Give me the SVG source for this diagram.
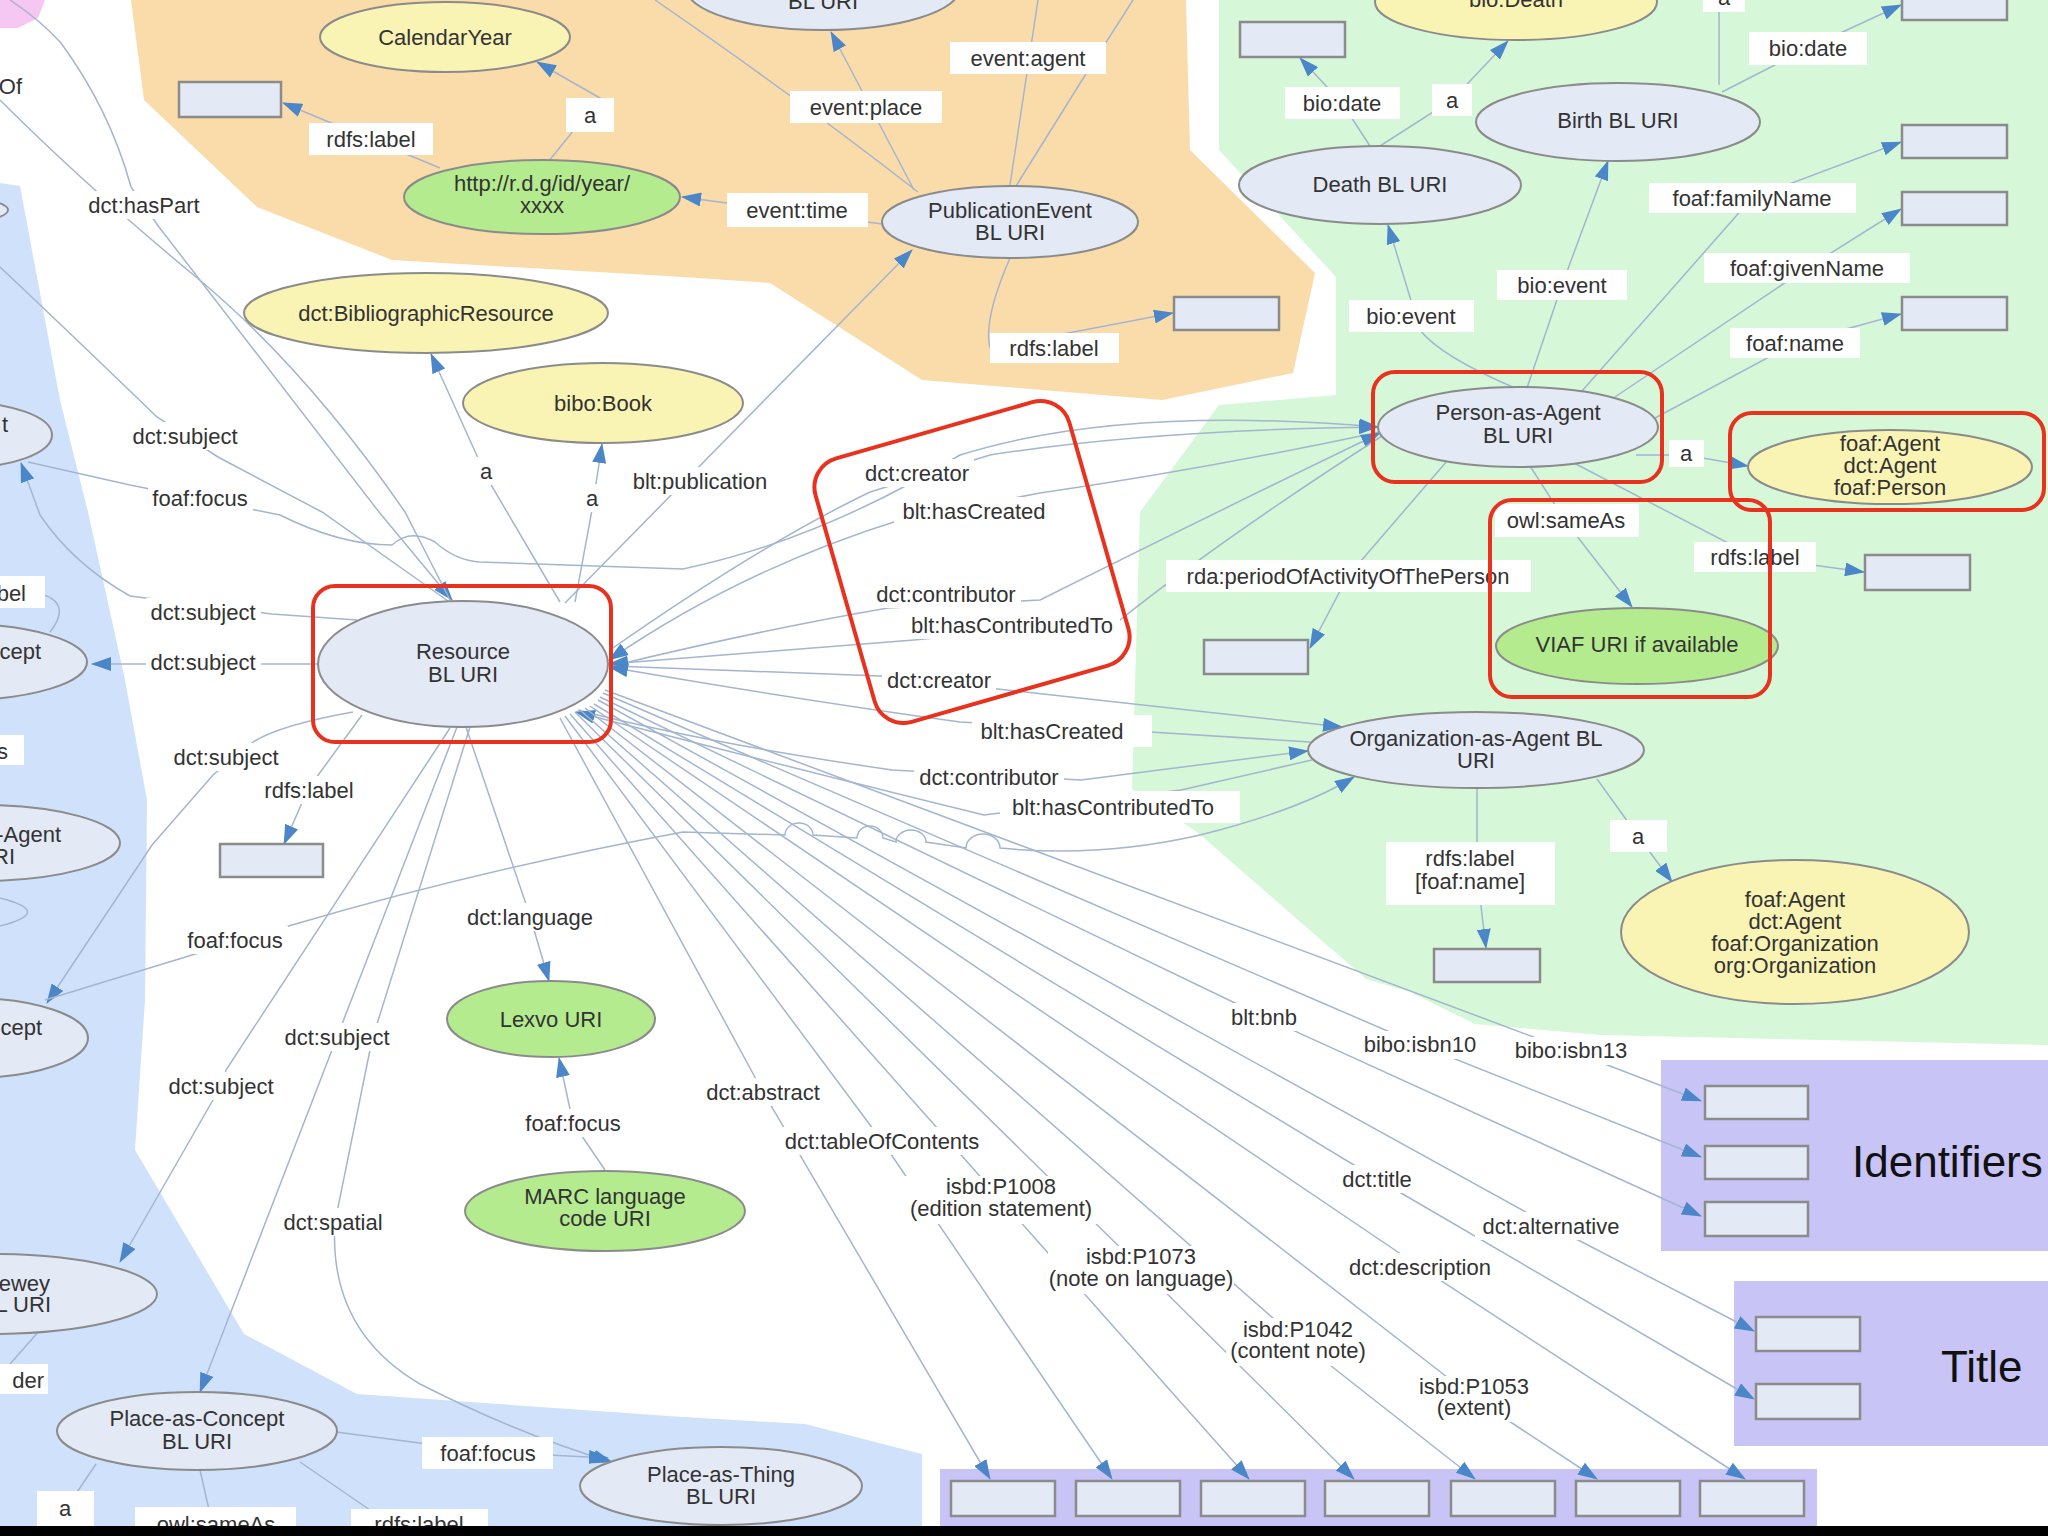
<svg xmlns="http://www.w3.org/2000/svg" width="2048" height="1536" viewBox="0 0 2048 1536">
<defs>
<marker id="ah" viewBox="0 0 20 14" refX="19" refY="7" markerWidth="20" markerHeight="14" markerUnits="userSpaceOnUse" orient="auto"><path d="M0,0 L20,7 L0,14 z" fill="#4a86c8"/></marker>
<style>
.c{fill:none;stroke:#a4b5cf;stroke-width:1.5}
.a{marker-end:url(#ah)}
.e{fill:#e3e9f5;stroke:#8b8b8b;stroke-width:2}
.y{fill:#faf4b4;stroke:#8b8b8b;stroke-width:2}
.g{fill:#b5eb8f;stroke:#8b8b8b;stroke-width:2}
.lit{fill:#e3e9f5;stroke:#8b8b8b;stroke-width:2.5}
.lb rect{fill:#ffffff}
text{font-family:'Liberation Sans',Arial,Helvetica,sans-serif;font-size:22px;fill:#333333;text-anchor:middle}
.r{text-anchor:end}
.big{font-size:44px;fill:#111;text-anchor:start}
.hl{fill:none;stroke:#e8321e;stroke-width:4}
</style>
</defs>
<rect width="2048" height="1536" fill="#ffffff"/>
<g id="regions">
<path d="M0,0 L45,0 L38,18 L18,28 L0,28 Z" fill="#f5c7f2"/>
<path d="M131,0 L144,100 L257,207 L392,260 L683,277 L770,283 L922,380 L1162,400 L1293,373 L1315,273 L1190,150 L1186,0 Z" fill="#fadcaa"/>
<path d="M1219,0 L1219,150 L1336,277 L1336,395 L1219,405 L1140,512 L1132,789 L1197,832 L1366,979 L1410,992 L1475,1024 L1600,1035 L2048,1045 L2048,0 Z" fill="#d6f7d8"/>
<path d="M0,183 L20,186 L60,400 L88,512 L125,680 L147,800 L145,1000 L135,1150 L244,1334 L357,1394 L683,1417 L805,1424 L922,1454 L922,1536 L0,1536 Z" fill="#d0e2fb"/>
<rect x="1661" y="1060" width="387" height="191" fill="#c8c4f6"/>
<rect x="1734" y="1281" width="314" height="165" fill="#c8c4f6"/>
<rect x="940" y="1469" width="877" height="67" fill="#c8c4f6"/>
</g>
<g id="connectors">
<path class="c a" d="M548,162 L600,98 L537,62"/>
<path class="c a" d="M440,168 L283,103"/>
<path class="c a" d="M882,224 L682,197"/>
<path class="c a" d="M914,190 L831,32"/>
<path class="c" d="M918,192 Q800,100 655,0"/>
<path class="c" d="M1010,185 L1038,0"/>
<path class="c" d="M1016,186 L1084,77 L1133,0"/>
<path class="c a" d="M1010,258 Q983,320 990,348 L1173,313"/>
<path class="c a" d="M565,603 L912,250"/>
<path class="c a" d="M560,602 L487,478 L431,354"/>
<path class="c a" d="M575,602 L592,510 L602,444"/>
<path class="c a" d="M10,0 Q40,20 61,43 Q110,110 131,187 L159,227 L379,512 L452,600"/>
<path class="c" d="M0,100 Q87,187 196,277 Q305,367 405,512 L450,600"/>
<path class="c" d="M0,267 Q70,333 157,417 L218,457 Q280,490 322,512 L448,601"/>
<path class="c a" d="M28,462 L130,485 L280,515 Q340,545 392,545 Q410,528 435,542 Q455,560 479,562 L683,569 Q820,540 960,455 Q1120,405 1378,427"/>
<path class="c a" d="M357,620 L272,614 L130,596 Q73,564 40,515 L21,463"/>
<path class="c a" d="M319,664 L92,664"/>
<path class="c a" d="M353,712 Q280,725 253,742 L213,775 L152,845 L47,1003"/>
<path class="c a" d="M45,1000 L192,955 L292,925 Q480,870 683,832 L785,835 a14,12 0 0 1 28,0 L857,838 a13,12 0 0 1 26,0 L896,842 a15,12 0 0 1 30,0 L966,848 a17,14 0 0 1 34,0 Q1100,858 1200,835 Q1300,810 1354,777"/>
<path class="c a" d="M610,650 Q760,545 870,492 L990,455 Q1150,430 1378,427"/>
<path class="c a" d="M1380,432 Q1200,470 1040,493 L900,520 Q740,570 609,660"/>
<path class="c a" d="M612,666 Q760,630 888,608 L1040,600 Q1200,520 1380,433"/>
<path class="c a" d="M1382,436 Q1220,540 1120,620 L914,640 Q760,652 609,664"/>
<path class="c a" d="M612,666 L880,676 L1342,727"/>
<path class="c a" d="M1310,742 L1150,732 L960,722 Q800,700 609,667"/>
<path class="c a" d="M578,710 Q700,742 892,770 L1081,780 L1308,751"/>
<path class="c a" d="M1312,760 L1181,790 L984,815 Q800,770 576,712"/>
<path class="c a" d="M560,718 L763,1092 L990,1479"/>
<path class="c a" d="M565,716 L882,1141 L1112,1479"/>
<path class="c a" d="M570,714 L1001,1200 L1249,1479"/>
<path class="c a" d="M575,712 L1141,1268 L1354,1479"/>
<path class="c a" d="M580,710 L1298,1340 L1475,1479"/>
<path class="c a" d="M585,708 L1474,1398 L1597,1479"/>
<path class="c a" d="M590,706 L1420,1267 L1745,1479"/>
<path class="c a" d="M594,704 L1377,1179 L1754,1399"/>
<path class="c a" d="M598,700 L1551,1226 L1754,1331"/>
<path class="c a" d="M600,697 L1264,1017 L1701,1216"/>
<path class="c a" d="M603,693 L1420,1045 L1701,1157"/>
<path class="c a" d="M605,690 L1571,1051 L1701,1101"/>
<path class="c a" d="M362,715 L308,789 L284,844"/>
<path class="c a" d="M466,727 L530,916 L549,981"/>
<path class="c a" d="M457,727 L337,1037 L200,1392"/>
<path class="c a" d="M470,727 L372,1040 L335,1222 Q328,1330 420,1384 Q520,1435 612,1462"/>
<path class="c a" d="M450,728 L226,1070 L221,1086 L120,1262"/>
<path class="c a" d="M605,1170 L573,1123 L559,1058"/>
<path class="c a" d="M336,1432 L488,1452 L608,1458"/>
<path class="c" d="M96,1464 L65,1510"/>
<path class="c" d="M200,1470 L209,1510"/>
<path class="c" d="M300,1462 L370,1510"/>
<path class="c" d="M40,1330 L10,1364"/>
<path class="c" d="M33,592 Q75,600 50,632"/>
<path class="c" d="M0,898 Q55,912 0,926"/>
<path class="c a" d="M1515,388 Q1440,356 1420,330 L1388,225"/>
<path class="c a" d="M1527,388 L1562,285 L1608,161"/>
<path class="c a" d="M1582,391 L1752,198 L1901,142"/>
<path class="c a" d="M1615,397 L1807,268 L1901,209"/>
<path class="c a" d="M1655,418 L1795,343 L1901,314"/>
<path class="c a" d="M1636,455 L1686,455 L1748,466"/>
<path class="c a" d="M1530,466 L1566,522 L1632,607"/>
<path class="c a" d="M1572,462 L1755,557 L1864,572"/>
<path class="c a" d="M1447,461 L1348,576 L1310,648"/>
<path class="c a" d="M1722,92 L1808,48 L1901,5"/>
<path class="c" d="M1719,85 L1719,0"/>
<path class="c a" d="M1370,146 L1342,103 L1300,58"/>
<path class="c a" d="M1380,146 L1452,100 L1508,41"/>
<path class="c a" d="M1477,788 L1477,873 L1486,948"/>
<path class="c a" d="M1597,779 L1638,836 L1672,882"/>
</g>
<g id="labels">
<g class="lb"><rect x="309" y="123" width="124" height="32"/><text x="371" y="147">rdfs:label</text></g>
<g class="lb"><rect x="566" y="98" width="48" height="34"/><text x="590" y="123">a</text></g>
<g class="lb"><rect x="790" y="91" width="152" height="32"/><text x="866" y="115">event:place</text></g>
<g class="lb"><rect x="950" y="42" width="156" height="32"/><text x="1028" y="66">event:agent</text></g>
<g class="lb"><rect x="727" y="193" width="141" height="34"/><text x="797" y="218">event:time</text></g>
<g class="lb"><rect x="990" y="333" width="129" height="30"/><text x="1054" y="356">rdfs:label</text></g>
<g class="lb"><rect x="1285" y="87" width="115" height="32"/><text x="1342" y="111">bio:date</text></g>
<g class="lb"><rect x="1432" y="84" width="40" height="32"/><text x="1452" y="108">a</text></g>
<g class="lb"><rect x="1749" y="32" width="118" height="33"/><text x="1808" y="56">bio:date</text></g>
<g class="lb"><rect x="1703" y="-20" width="42" height="32"/><text x="1724" y="5">a</text></g>
<g class="lb"><rect x="1649" y="183" width="207" height="30"/><text x="1752" y="206">foaf:familyName</text></g>
<g class="lb"><rect x="1704" y="253" width="206" height="30"/><text x="1807" y="276">foaf:givenName</text></g>
<g class="lb"><rect x="1730" y="328" width="130" height="30"/><text x="1795" y="351">foaf:name</text></g>
<g class="lb"><rect x="1497" y="270" width="130" height="30"/><text x="1562" y="293">bio:event</text></g>
<g class="lb"><rect x="1349" y="300" width="125" height="32"/><text x="1411" y="324">bio:event</text></g>
<g class="lb"><rect x="1669" y="440" width="35" height="27"/><text x="1686" y="461">a</text></g>
<g class="lb"><rect x="1495" y="504" width="144" height="33"/><text x="1566" y="528">owl:sameAs</text></g>
<g class="lb"><rect x="1694" y="542" width="122" height="30"/><text x="1755" y="565">rdfs:label</text></g>
<g class="lb"><rect x="1166" y="560" width="365" height="32"/><text x="1348" y="584">rda:periodOfActivityOfThePerson</text></g>
<g class="lb"><rect x="1610" y="820" width="57" height="32"/><text x="1638" y="844">a</text></g>
<g class="lb"><rect x="1386" y="842" width="169" height="63"/><text x="1470" y="866">rdfs:label</text><text x="1470" y="889">[foaf:name]</text></g>
<g class="lb"><rect x="972" y="715" width="180" height="32"/><text x="1052" y="739">blt:hasCreated</text></g>
<g class="lb"><rect x="1000" y="791" width="240" height="32"/><text x="1113" y="815">blt:hasContributedTo</text></g>
<g class="lb"><rect x="914" y="763" width="150" height="28"/><text x="989" y="785">dct:contributor</text></g>
<g class="lb"><rect x="882" y="666" width="114" height="28"/><text x="939" y="688">dct:creator</text></g>
<g class="lb"><rect x="905" y="611" width="215" height="28"/><text x="1012" y="633">blt:hasContributedTo</text></g>
<g class="lb"><rect x="871" y="580" width="150" height="28"/><text x="946" y="602">dct:contributor</text></g>
<g class="lb"><rect x="894" y="497" width="160" height="28"/><text x="974" y="519">blt:hasCreated</text></g>
<g class="lb"><rect x="860" y="459" width="114" height="28"/><text x="917" y="481">dct:creator</text></g>
<g class="lb"><rect x="84" y="191" width="121" height="28"/><text x="144" y="213">dct:hasPart</text></g>
<g class="lb"><rect x="128" y="422" width="115" height="28"/><text x="185" y="444">dct:subject</text></g>
<g class="lb"><rect x="148" y="484" width="105" height="28"/><text x="200" y="506">foaf:focus</text></g>
<g class="lb"><rect x="474" y="457" width="24" height="28"/><text x="486" y="479">a</text></g>
<g class="lb"><rect x="580" y="484" width="24" height="28"/><text x="592" y="506">a</text></g>
<g class="lb"><rect x="625" y="467" width="151" height="28"/><text x="700" y="489">blt:publication</text></g>
<g class="lb"><rect x="146" y="598" width="115" height="28"/><text x="203" y="620">dct:subject</text></g>
<g class="lb"><rect x="146" y="648" width="115" height="28"/><text x="203" y="670">dct:subject</text></g>
<g class="lb"><rect x="169" y="743" width="115" height="28"/><text x="226" y="765">dct:subject</text></g>
<g class="lb"><rect x="260" y="776" width="99" height="28"/><text x="309" y="798">rdfs:label</text></g>
<g class="lb"><rect x="183" y="926" width="105" height="28"/><text x="235" y="948">foaf:focus</text></g>
<g class="lb"><rect x="462" y="903" width="136" height="28"/><text x="530" y="925">dct:language</text></g>
<g class="lb"><rect x="280" y="1023" width="115" height="28"/><text x="337" y="1045">dct:subject</text></g>
<g class="lb"><rect x="164" y="1072" width="115" height="28"/><text x="221" y="1094">dct:subject</text></g>
<g class="lb"><rect x="521" y="1109" width="105" height="28"/><text x="573" y="1131">foaf:focus</text></g>
<g class="lb"><rect x="277" y="1208" width="113" height="28"/><text x="333" y="1230">dct:spatial</text></g>
<g class="lb"><rect x="701" y="1078" width="125" height="28"/><text x="763" y="1100">dct:abstract</text></g>
<g class="lb"><rect x="778" y="1127" width="208" height="28"/><text x="882" y="1149">dct:tableOfContents</text></g>
<g class="lb"><rect x="904" y="1176" width="194" height="48"/><text x="1001" y="1194">isbd:P1008</text><text x="1001" y="1216">(edition statement)</text></g>
<g class="lb"><rect x="1048" y="1246" width="186" height="48"/><text x="1141" y="1264">isbd:P1073</text><text x="1141" y="1286">(note on language)</text></g>
<g class="lb"><rect x="1226" y="1318" width="144" height="48"/><text x="1298" y="1337">isbd:P1042</text><text x="1298" y="1358">(content note)</text></g>
<g class="lb"><rect x="1418" y="1376" width="112" height="46"/><text x="1474" y="1394">isbd:P1053</text><text x="1474" y="1415">(extent)</text></g>
<g class="lb"><rect x="1222" y="1003" width="84" height="28"/><text x="1264" y="1025">blt:bnb</text></g>
<g class="lb"><rect x="1363" y="1031" width="116" height="28"/><text x="1420" y="1052">bibo:isbn10</text></g>
<g class="lb"><rect x="1513" y="1037" width="116" height="28"/><text x="1571" y="1058">bibo:isbn13</text></g>
<g class="lb"><rect x="1336" y="1165" width="84" height="28"/><text x="1377" y="1187">dct:title</text></g>
<g class="lb"><rect x="1475" y="1212" width="152" height="28"/><text x="1551" y="1234">dct:alternative</text></g>
<g class="lb"><rect x="1344" y="1253" width="154" height="28"/><text x="1420" y="1275">dct:description</text></g>
<g class="lb"><rect x="422" y="1437" width="131" height="32"/><text x="488" y="1461">foaf:focus</text></g>
<g class="lb"><rect x="37" y="1491" width="57" height="35"/><text x="65" y="1516">a</text></g>
<g class="lb"><rect x="135" y="1507" width="161" height="30"/><text x="216" y="1532">owl:sameAs</text></g>
<g class="lb"><rect x="351" y="1509" width="137" height="30"/><text x="419" y="1532">rdfs:label</text></g>
<g class="lb"><rect x="0" y="576" width="45" height="32"/><text class="r" x="26" y="601">bel</text></g>
<g class="lb"><rect x="0" y="735" width="24" height="30"/><text class="r" x="8" y="759">s</text></g>
<g class="lb"><rect x="0" y="1364" width="48" height="30"/><text class="r" x="44" y="1388">der</text></g>
<text class="r" x="22" y="94">Of</text>
</g>
<g id="n-top-bluri"><ellipse class="e" cx="823" cy="-12" rx="137" ry="42"/><text x="823" y="9">BL URI</text></g>
<g id="n-calendaryear"><ellipse class="y" cx="445" cy="37" rx="125" ry="35"/><text x="445" y="45">CalendarYear</text></g>
<g id="n-year-uri"><ellipse class="g" cx="542" cy="197" rx="138" ry="37"/><text x="542" y="191">http://r.d.g/id/year/</text><text x="542" y="213">xxxx</text></g>
<g id="n-pubevent"><ellipse class="e" cx="1010" cy="222" rx="128" ry="36"/><text x="1010" y="218">PublicationEvent</text><text x="1010" y="240">BL URI</text></g>
<g id="n-bibres"><ellipse class="y" cx="426" cy="313" rx="182" ry="40"/><text x="426" y="321">dct:BibliographicResource</text></g>
<g id="n-book"><ellipse class="y" cx="603" cy="403" rx="140" ry="40"/><text x="603" y="411">bibo:Book</text></g>
<g id="n-resource"><ellipse class="e" cx="463" cy="664" rx="145" ry="63"/><text x="463" y="659">Resource</text><text x="463" y="682">BL URI</text></g>
<g id="n-left-top"><ellipse class="e" cx="-80" cy="210" rx="88" ry="16"/></g>
<g id="n-left-t"><ellipse class="e" cx="-40" cy="435" rx="92" ry="33"/><text class="r" x="8" y="432">t</text></g>
<g id="n-left-cept1"><ellipse class="e" cx="-40" cy="662" rx="127" ry="38"/><text class="r" x="41" y="659">cept</text></g>
<g id="n-left-agent"><ellipse class="e" cx="-20" cy="843" rx="140" ry="38"/><text class="r" x="61" y="842">-Agent</text><text class="r" x="15" y="864">RI</text></g>
<g id="n-left-cept2"><ellipse class="e" cx="-30" cy="1038" rx="118" ry="40"/><text class="r" x="42" y="1035">cept</text></g>
<g id="n-left-dewey"><ellipse class="e" cx="-10" cy="1294" rx="167" ry="40"/><text class="r" x="50" y="1291">ewey</text><text class="r" x="51" y="1312">L URI</text></g>
<g id="n-placeconcept"><ellipse class="e" cx="197" cy="1431" rx="140" ry="39"/><text x="197" y="1426">Place-as-Concept</text><text x="197" y="1449">BL URI</text></g>
<g id="n-placething"><ellipse class="e" cx="721" cy="1486" rx="141" ry="39"/><text x="721" y="1482">Place-as-Thing</text><text x="721" y="1504">BL URI</text></g>
<g id="n-lexvo"><ellipse class="g" cx="551" cy="1019" rx="104" ry="38"/><text x="551" y="1027">Lexvo URI</text></g>
<g id="n-marc"><ellipse class="g" cx="605" cy="1211" rx="140" ry="40"/><text x="605" y="1204">MARC language</text><text x="605" y="1226">code URI</text></g>
<g id="n-person"><ellipse class="e" cx="1518" cy="427" rx="140" ry="40"/><text x="1518" y="420">Person-as-Agent</text><text x="1518" y="443">BL URI</text></g>
<g id="n-person-class"><ellipse class="y" cx="1890" cy="467" rx="142" ry="37"/><text x="1890" y="451">foaf:Agent</text><text x="1890" y="473">dct:Agent</text><text x="1890" y="495">foaf:Person</text></g>
<g id="n-death"><ellipse class="e" cx="1380" cy="185" rx="141" ry="39"/><text x="1380" y="192">Death BL URI</text></g>
<g id="n-birth"><ellipse class="e" cx="1618" cy="122" rx="142" ry="39"/><text x="1618" y="128">Birth BL URI</text></g>
<g id="n-biodeath"><ellipse class="y" cx="1516" cy="2" rx="141" ry="38"/><text x="1516" y="7">bio:Death</text></g>
<g id="n-viaf"><ellipse class="g" cx="1637" cy="646" rx="141" ry="38"/><text x="1637" y="652">VIAF URI if available</text></g>
<g id="n-org"><ellipse class="e" cx="1476" cy="750" rx="168" ry="38"/><text x="1476" y="746">Organization-as-Agent BL</text><text x="1476" y="768">URI</text></g>
<g id="n-org-class"><ellipse class="y" cx="1795" cy="932" rx="174" ry="72"/><text x="1795" y="907">foaf:Agent</text><text x="1795" y="929">dct:Agent</text><text x="1795" y="951">foaf:Organization</text><text x="1795" y="973">org:Organization</text></g>
<g id="literals">
<rect class="lit" x="179" y="82" width="102" height="35"/>
<rect class="lit" x="1240" y="22" width="105" height="35"/>
<rect class="lit" x="1174" y="297" width="105" height="33"/>
<rect class="lit" x="1902" y="-10" width="105" height="30"/>
<rect class="lit" x="1902" y="125" width="105" height="33"/>
<rect class="lit" x="1902" y="192" width="105" height="33"/>
<rect class="lit" x="1902" y="297" width="105" height="33"/>
<rect class="lit" x="1865" y="555" width="105" height="35"/>
<rect class="lit" x="1204" y="640" width="104" height="34"/>
<rect class="lit" x="1434" y="949" width="106" height="33"/>
<rect class="lit" x="220" y="844" width="103" height="33"/>
<rect class="lit" x="1705" y="1086" width="103" height="33"/>
<rect class="lit" x="1705" y="1146" width="103" height="33"/>
<rect class="lit" x="1705" y="1202" width="103" height="34"/>
<rect class="lit" x="1756" y="1317" width="104" height="34"/>
<rect class="lit" x="1756" y="1384" width="104" height="35"/>
<rect class="lit" x="951" y="1481" width="104" height="35"/>
<rect class="lit" x="1076" y="1481" width="104" height="35"/>
<rect class="lit" x="1201" y="1481" width="104" height="35"/>
<rect class="lit" x="1325" y="1481" width="104" height="35"/>
<rect class="lit" x="1451" y="1481" width="104" height="35"/>
<rect class="lit" x="1576" y="1481" width="104" height="35"/>
<rect class="lit" x="1700" y="1481" width="104" height="35"/>
</g>
<g id="group-titles">
<text class="big" x="1852" y="1177">Identifiers</text>
<text class="big" x="1941" y="1382">Title</text>
</g>
<g id="highlights">
<rect class="hl" x="313" y="586" width="298" height="156" rx="22"/>
<rect class="hl" x="1373" y="372" width="289" height="110" rx="22"/>
<rect class="hl" x="1730" y="413" width="314" height="97" rx="22"/>
<rect class="hl" x="1490" y="500" width="280" height="197" rx="22"/>
<rect class="hl" x="-132" y="-137" width="264" height="274" rx="30" transform="translate(972,562) rotate(-16)"/>
</g>
<rect x="0" y="1526" width="2048" height="10" fill="#000"/>
</svg>
